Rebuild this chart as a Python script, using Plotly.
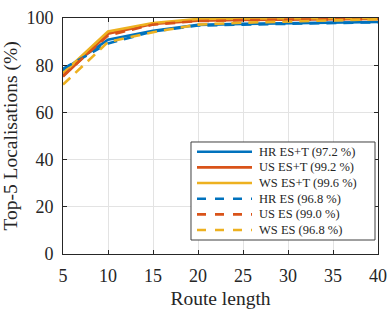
import plotly.graph_objects as go

route_length = [5, 10, 15, 20, 25, 30, 35, 40]

hr_est = [77.8, 90.8, 94.6, 97.1, 97.5, 97.8, 98.0, 98.3]
us_est = [75.2, 93.3, 97.5, 98.9, 99.2, 99.4, 99.5, 99.6]
ws_est = [76.6, 94.3, 97.9, 99.6, 99.8, 99.9, 99.9, 100.0]
hr_es = [78.5, 89.2, 94.3, 96.8, 97.2, 97.6, 97.9, 98.2]
us_es = [75.5, 92.6, 97.2, 98.7, 99.1, 99.3, 99.5, 99.6]
ws_es = [71.8, 89.8, 94.0, 97.2, 98.0, 98.6, 99.1, 99.5]

names = ["HR ES+T (97.2 %)", "US ES+T (99.2 %)", "WS ES+T (99.6 %)",
         "HR ES (96.8 %)", "US ES (99.0 %)", "WS ES (96.8 %)"]
values = [hr_est, us_est, ws_est, hr_es, us_es, ws_es]
colors = ["#0072BD", "#D95319", "#EDB120", "#0072BD", "#D95319", "#EDB120"]
dashes = ["solid", "solid", "solid", "10px,7px", "10px,7px", "10px,7px"]

font = "Liberation Serif, Times New Roman, DejaVu Serif, serif"

fig = go.Figure()
for name, vals, col, dash in zip(names, values, colors, dashes):
    fig.add_trace(go.Scatter(x=route_length, y=vals, mode="lines", name=name,
                             showlegend=False,
                             line=dict(color=col, width=2.6, dash=dash)))

# custom legend (compact, MATLAB-like) in paper coordinates
box = dict(x0=0.4063, x1=0.9905, y0=0.0593, y1=0.4746)
fig.add_shape(type="rect", xref="paper", yref="paper", **box,
              fillcolor="white", line=dict(color="#404040", width=1), layer="above")
row_top, row_step = 0.4335, 0.0664
for i, (name, col, dash) in enumerate(zip(names, colors, dashes)):
    yy = row_top - i * row_step
    fig.add_shape(type="line", xref="paper", yref="paper", x0=0.4254, x1=0.600,
                  y0=yy, y1=yy, line=dict(color=col, width=2.6,
                                          dash="dash" if dash != "solid" else "solid"),
                  layer="above")
    fig.add_annotation(xref="paper", yref="paper", x=0.6159, y=yy, text=name,
                       showarrow=False, xanchor="left", yanchor="middle",
                       font=dict(family=font, size=12.5, color="#262626"))

fig.update_layout(
    width=390, height=309,
    margin=dict(l=63, r=12, t=18, b=55),
    plot_bgcolor="white", paper_bgcolor="white",
    font=dict(family=font, size=18, color="#262626"),
    showlegend=False,
    xaxis=dict(range=[5, 40], tickvals=[5, 10, 15, 20, 25, 30, 35, 40],
               showgrid=True, gridcolor="#e3e3e3", gridwidth=1,
               showline=True, linecolor="#262626", linewidth=1, mirror="allticks",
               ticks="inside", ticklen=4, tickcolor="#262626",
               ticklabeloverflow="allow", ticklabelstandoff=5,
               title=dict(text="Route length", font=dict(size=19.5), standoff=7),
               tickfont=dict(size=18), zeroline=False, automargin=False),
    yaxis=dict(range=[0, 100], tickvals=[0, 20, 40, 60, 80, 100],
               showgrid=True, gridcolor="#e3e3e3", gridwidth=1,
               showline=True, linecolor="#262626", linewidth=1, mirror="allticks",
               ticks="inside", ticklen=4, tickcolor="#262626",
               ticklabelstandoff=5,
               title=dict(text="Top-5 Localisations (%)", font=dict(size=19.5), standoff=5),
               tickfont=dict(size=18), zeroline=False, automargin=False),
)

fig.write_html("out.html", config={"displayModeBar": False},
               post_script="document.body.style.margin='0px';")
